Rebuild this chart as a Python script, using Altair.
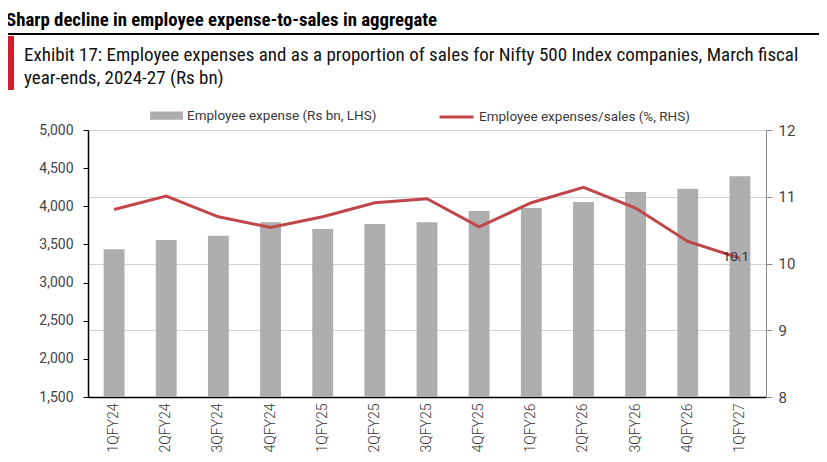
import altair as alt
import pandas as pd

quarters = ["1QFY24", "2QFY24", "3QFY24", "4QFY24", "1QFY25", "2QFY25", "3QFY25",
            "4QFY25", "1QFY26", "2QFY26", "3QFY26", "4QFY26", "1QFY27"]
employee_expense = [3436, 3558, 3615, 3790, 3702, 3768, 3790, 3938, 3977, 4056, 4187, 4231, 4393]
expense_to_sales = [10.81, 11.01, 10.70, 10.54, 10.70, 10.91, 10.97, 10.55, 10.91, 11.14, 10.83, 10.33, 10.08]

bar_name = "Employee expense (Rs bn, LHS)"
line_name = "Employee expenses/sales (%, RHS)"
title_text = "Sharp decline in employee expense-to-sales in aggregate"
subtitle_lines = [
    "Exhibit 17: Employee expenses and as a proportion of sales for Nifty 500 Index companies, March fiscal",
    "year-ends, 2024-27 (Rs bn)",
]

df = pd.DataFrame({
    "quarter": quarters,
    "expense": employee_expense,
    "ratio": expense_to_sales,
    "bar_series": [bar_name] * len(quarters),
    "line_series": [line_name] * len(quarters),
})
df["label"] = ["10.1" if q == "1QFY27" else "" for q in quarters]

FONT = "Roboto"
TITLE_FONT = "'Liberation Sans Narrow', 'Roboto Condensed', Roboto"

x_enc = alt.X("quarter:N", sort=quarters, title=None,
              scale=alt.Scale(paddingInner=0.6, paddingOuter=0.3),
              axis=alt.Axis(labelAngle=-90, labelFontSize=14, labelFontWeight=300,
                            labelColor="#333333", labelFont=FONT, ticks=False,
                            domainColor="#000000", domainWidth=1.5, labelPadding=6,
                            labelBaseline="middle", labelLimit=200))

bars = alt.Chart(df).mark_bar(color="#aeaeae").encode(
    x=x_enc,
    y=alt.Y("expense:Q", title=None,
            scale=alt.Scale(domain=[1500, 5000], nice=False, zero=False, clamp=True),
            axis=alt.Axis(values=[1500, 2000, 2500, 3000, 3500, 4000, 4500, 5000],
                          format=",.0f", grid=False, labelFontSize=14, labelColor="#444444",
                          labelFont=FONT, domainColor="#000000", domainWidth=1.5,
                          tickColor="#000000", tickSize=5, labelPadding=10)),
    fill=alt.Fill("bar_series:N", scale=alt.Scale(range=["#aeaeae"]),
                  legend=alt.Legend(orient="none", legendX=62, legendY=-31, title=None,
                                    symbolType="M-1,-0.25H1V0.25H-1Z", symbolSize=1089,
                                    symbolStrokeWidth=0, labelFontSize=13.5,
                                    labelColor="#3a3a3a", labelFont=FONT, padding=0,
                                    labelOffset=4, labelLimit=400)),
)

y_line = alt.Y("ratio:Q", title=None,
               scale=alt.Scale(domain=[8, 12], nice=False, zero=False),
               axis=alt.Axis(orient="right", values=[8, 9, 10, 11, 12], grid=True,
                             gridColor="#d3d3d3", gridWidth=1, labelFontSize=15,
                             labelColor="#444444", labelFont=FONT, domainColor="#888888",
                             tickColor="#888888", tickSize=6, labelPadding=6))

line = alt.Chart(df).mark_line(strokeWidth=3).encode(
    x=alt.X("quarter:N", sort=quarters),
    y=y_line,
    stroke=alt.Stroke("line_series:N", scale=alt.Scale(range=["#c0464a"]),
                      legend=alt.Legend(orient="none", legendX=350, legendY=-31.5,
                                        title=None, symbolType="stroke", symbolSize=1156,
                                        symbolStrokeWidth=3, labelFontSize=13.5,
                                        labelColor="#3a3a3a", labelFont=FONT, padding=0,
                                        labelOffset=4, labelLimit=400)),
)

label = alt.Chart(df).transform_filter(alt.datum.label != "").mark_text(
    fontSize=13.5, color="#333333", font=FONT, align="center", baseline="middle", dx=-4, dy=-1
).encode(
    x=alt.X("quarter:N", sort=quarters),
    y=y_line,
    text="label:N",
)

# decorations (title block)
deco = pd.DataFrame({"t": [title_text], "s1": [subtitle_lines[0]], "s2": [subtitle_lines[1]]})
title_mark = alt.Chart(deco).mark_text(
    font=TITLE_FONT, fontSize=18.8, fontWeight="bold", align="left", baseline="alphabetic",
    color="#000000"
).encode(x=alt.value(-82), y=alt.value(-104), text="t:N")
sub1 = alt.Chart(deco).mark_text(
    font=TITLE_FONT, fontSize=19, align="left", baseline="alphabetic", color="#111111"
).encode(x=alt.value(-64), y=alt.value(-69), text="s1:N")
sub2 = alt.Chart(deco).mark_text(
    font=TITLE_FONT, fontSize=19, align="left", baseline="alphabetic", color="#111111"
).encode(x=alt.value(-64), y=alt.value(-46), text="s2:N")
black_rule = alt.Chart(deco).mark_rule(color="#000000", strokeWidth=2).encode(
    x=alt.value(-82), x2=alt.value(739), y=alt.value(-96))
red_bar = alt.Chart(deco).mark_rule(color="#d0202a", strokeWidth=8).encode(
    x=alt.value(-78), y=alt.value(-94), y2=alt.value(-40))

decor = alt.layer(title_mark, sub1, sub2, black_rule, red_bar)

chart = alt.layer(bars, alt.layer(line, label), decor).resolve_scale(
    y="independent"
).properties(
    width=678, height=267,
    autosize=alt.AutoSizeParams(type="none"),
    padding={"left": 80, "top": 122, "right": 53, "bottom": 57},
).configure_view(stroke=None).configure(background="#ffffff")

chart.save("out.html", embed_options={"renderer": "svg", "actions": False})
